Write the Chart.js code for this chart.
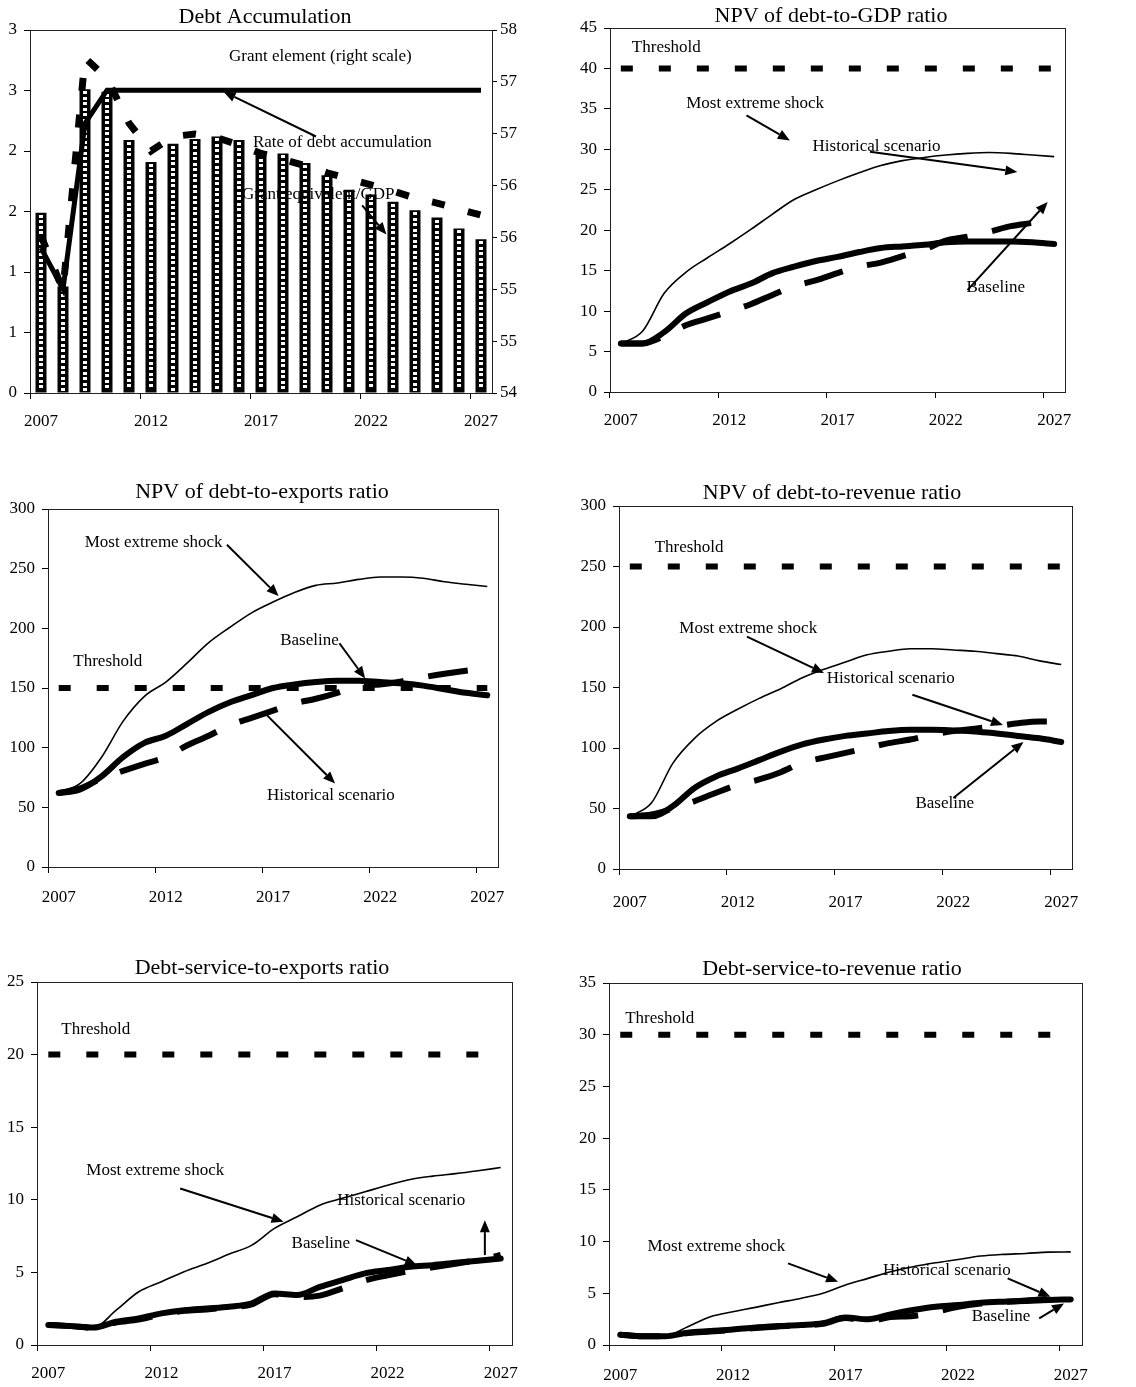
<!DOCTYPE html>
<html>
<head>
<meta charset="utf-8">
<script src="https://cdn.jsdelivr.net/npm/chart.js@4.4.1/dist/chart.umd.min.js"></script>
<style>
  body { margin: 0; background: #fff; }
  #page { position: relative; width: 1136px; height: 1387px; background: #fff; }
  canvas { position: absolute; }
</style>
</head>
<body>
<div id="page">
  <canvas id="c1" width="535" height="440" style="left:0;top:0"></canvas>
  <canvas id="c2" width="540" height="440" style="left:568px;top:0"></canvas>
  <canvas id="c3" width="540" height="440" style="left:0;top:470px"></canvas>
  <canvas id="c4" width="540" height="440" style="left:568px;top:470px"></canvas>
  <canvas id="c5" width="540" height="437" style="left:0;top:950px"></canvas>
  <canvas id="c6" width="540" height="437" style="left:568px;top:950px"></canvas>
</div>
<script>
const years = ['2007', '2008', '2009', '2010', '2011', '2012', '2013', '2014', '2015', '2016', '2017',
               '2018', '2019', '2020', '2021', '2022', '2023', '2024', '2025', '2026', '2027'];

// Debt accumulation
const debtAccumRate = [1.49, 0.88, 2.51, 2.49, 2.09, 1.91, 2.06, 2.10, 2.12, 2.09, 2.00, 1.98, 1.90, 1.80, 1.68, 1.64, 1.58, 1.51, 1.45, 1.36, 1.27];
const grantEquivGdp = [1.30, 0.85, 2.77, 2.60, 2.23, 2.00, 2.12, 2.14, 2.11, 2.05, 1.98, 1.93, 1.88, 1.82, 1.77, 1.72, 1.67, 1.61, 1.57, 1.52, 1.47];
const grantElement = [55.4, 55.0, 56.6, 56.92, 56.92, 56.92, 56.92, 56.92, 56.92, 56.92, 56.92, 56.92, 56.92, 56.92, 56.92, 56.92, 56.92, 56.92, 56.92, 56.92, 56.92];

// NPV of debt-to-GDP
const gdpBaseline = [6.0, 6.0, 7.4, 9.7, 11.1, 12.4, 13.4, 14.7, 15.5, 16.2, 16.7, 17.3, 17.8, 18.0, 18.2, 18.5, 18.6, 18.6, 18.6, 18.5, 18.3];
const gdpHistorical = [6.0, 6.0, 6.9, 8.25, 9.1, 9.95, 10.85, 12.0, 13.1, 13.8, 14.7, 15.5, 16.0, 16.8, 17.6, 18.7, 19.2, 19.8, 20.5, 20.9, 21.3];
const gdpShock = [6.0, 7.5, 12.2, 14.8, 16.6, 18.3, 20.1, 22.0, 23.8, 25.0, 26.1, 27.1, 28.0, 28.6, 29.0, 29.3, 29.5, 29.6, 29.5, 29.3, 29.1];
const gdpThreshold = [40, 40, 40, 40, 40, 40, 40, 40, 40, 40, 40, 40, 40, 40, 40, 40, 40, 40, 40, 40, 40];

// NPV of debt-to-exports
const expBaseline = [62, 65, 76, 92, 104, 110, 120, 130, 138, 144, 150, 153, 155, 156, 156, 155, 154, 152, 149, 146, 144];
const expHistorical = [62, 66, 74, 80.5, 86.5, 92, 102, 110, 119, 125, 131, 137, 141, 146, 152, 153, 155.5, 159, 162, 164.5, 166.5];
const expShock = [63, 70, 92, 122, 143, 155, 171, 188, 201, 213, 222, 230, 236, 238, 241, 243, 243, 242, 239, 237, 235];
const expThreshold = [150, 150, 150, 150, 150, 150, 150, 150, 150, 150, 150, 150, 150, 150, 150, 150, 150, 150, 150, 150, 150];

// NPV of debt-to-revenue
const revBaseline = [43.5, 43.5, 52, 67, 76.5, 83, 90, 97, 103, 107, 110, 112, 114, 115, 115, 114.5, 113.7, 112, 110, 108, 105];
const revHistorical = [43.5, 45, 50, 56, 63, 69.5, 74, 80, 88, 92, 96, 100, 104, 107, 111, 114, 116, 118, 120.5, 122, 122];
const revShock = [43.5, 54.5, 87.5, 108, 122, 132, 141, 149, 158, 165, 171, 177, 180, 182, 182, 181, 180, 178, 176, 172, 169];
const revThreshold = [250, 250, 250, 250, 250, 250, 250, 250, 250, 250, 250, 250, 250, 250, 250, 250, 250, 250, 250, 250, 250];

// Debt-service-to-exports
const dsxBaseline = [1.38, 1.3, 1.2, 1.6, 1.83, 2.18, 2.4, 2.52, 2.64, 2.87, 3.55, 3.44, 4.0, 4.47, 4.93, 5.16, 5.39, 5.5, 5.66, 5.8, 5.96];
const dsxHistorical = [1.38, 1.3, 1.2, 1.55, 1.75, 2.1, 2.35, 2.45, 2.6, 2.8, 3.5, 3.3, 3.4, 3.9, 4.45, 4.8, 5.1, 5.35, 5.6, 5.85, 6.2];
const dsxShock = [1.38, 1.26, 1.2, 2.4, 3.67, 4.36, 5.05, 5.62, 6.26, 6.88, 8.03, 8.83, 9.63, 10.1, 10.55, 11.0, 11.4, 11.63, 11.8, 12.0, 12.22];
const dsxThreshold = [20, 20, 20, 20, 20, 20, 20, 20, 20, 20, 20, 20, 20, 20, 20, 20, 20, 20, 20, 20, 20];

// Debt-service-to-revenue
const dsrBaseline = [1.0, 0.85, 0.85, 1.19, 1.35, 1.5, 1.7, 1.83, 1.93, 2.1, 2.67, 2.48, 2.96, 3.38, 3.7, 3.86, 4.09, 4.19, 4.25, 4.35, 4.41];
const dsrHistorical = [1.0, 0.85, 0.85, 1.15, 1.3, 1.45, 1.65, 1.8, 1.9, 2.05, 2.6, 2.3, 2.7, 2.8, 3.2, 3.7, 4.0, 4.15, 4.3, 4.45, 4.55];
const dsrShock = [1.06, 0.8, 0.87, 1.77, 2.74, 3.22, 3.64, 4.09, 4.5, 5.0, 5.8, 6.44, 7.08, 7.57, 7.95, 8.27, 8.6, 8.76, 8.85, 8.98, 9.0];
const dsrThreshold = [30, 30, 30, 30, 30, 30, 30, 30, 30, 30, 30, 30, 30, 30, 30, 30, 30, 30, 30, 30, 30];

const serif = "'Liberation Serif', 'Times New Roman', serif";

// title, frame around the plot area, text notes and arrows (notes in data units)
function notesPlugin(notes) {
    return {
        id: 'notes',
        afterDatasetDraw(chart, args) {
            // white squares down the middle of each black bar
            if (!notes.checker || args.meta.type !== 'bar') return;
            const ctx = chart.ctx;
            ctx.save();
            ctx.fillStyle = '#fff';
            args.meta.data.forEach(bar => {
                const left = Math.round(bar.x - 2), top = bar.y + 2;
                for (let y = top; y + 3 <= bar.base - 1; y += 5.5) {
                    ctx.fillRect(left, Math.round(y), 4, 3);
                }
            });
            ctx.restore();
        },
        afterDatasetsDraw(chart) {
            const { ctx, chartArea: a } = chart;
            const xs = chart.scales.x, ys = chart.scales.y;
            const px = v => xs.getPixelForValue(v);
            const py = v => ys.getPixelForValue(v);
            ctx.save();
            ctx.strokeStyle = '#222';
            ctx.lineWidth = 1;
            ctx.strokeRect(Math.round(a.left) + 0.5, Math.round(a.top) + 0.5, Math.round(a.right - a.left), Math.round(a.bottom - a.top));

            ctx.fillStyle = '#000';
            ctx.strokeStyle = '#000';
            ctx.lineWidth = 2;
            (notes.arrows || []).forEach(([x1, y1, x2, y2]) => {
                const ax = px(x1), ay = py(y1), bx = px(x2), by = py(y2);
                const ang = Math.atan2(by - ay, bx - ax);
                const len = 12, half = 5;
                const ex = bx - len * Math.cos(ang), ey = by - len * Math.sin(ang);
                ctx.beginPath();
                ctx.moveTo(ax, ay);
                ctx.lineTo(ex, ey);
                ctx.stroke();
                ctx.beginPath();
                ctx.moveTo(bx, by);
                ctx.lineTo(ex + half * Math.sin(ang), ey - half * Math.cos(ang));
                ctx.lineTo(ex - half * Math.sin(ang), ey + half * Math.cos(ang));
                ctx.closePath();
                ctx.fill();
            });

            ctx.textAlign = 'center';
            ctx.textBaseline = 'middle';
            ctx.font = '17px ' + serif;
            (notes.texts || []).forEach(([t, x, y]) => ctx.fillText(t, px(x), py(y)));

            const [title, tx, ty] = notes.title;
            ctx.font = '22px ' + serif;
            ctx.fillText(title, tx, ty);
            ctx.restore();
        }
    };
}

function xAxis(height, pad) {
    return {
        type: 'category',
        offset: true,
        grid: {
            offset: true,
            drawOnChartArea: false,
            tickLength: 6,
            color: c => c.index % 5 === 0 ? '#000' : 'rgba(0,0,0,0)',
        },
        border: { color: '#000', width: 1 },
        ticks: {
            autoSkip: false,
            maxRotation: 0,
            padding: pad,
            color: '#000',
            font: { family: serif, size: 17 },
            callback: (v, i) => i % 5 === 0 ? years[i] : '',
        },
        afterFit: s => { s.height = height; s.paddingLeft = 0; s.paddingRight = 0; },
    };
}

function yAxis(width, min, max, step, extra) {
    return Object.assign({
        min: min,
        max: max,
        grid: { drawOnChartArea: false, tickLength: 6, color: '#000' },
        border: { color: '#000', width: 1 },
        ticks: {
            stepSize: step,
            padding: 7,
            color: '#000',
            font: { family: serif, size: 17 },
            callback: v => Math.round(v),
        },
        afterFit: s => { s.width = width; s.paddingTop = 0; s.paddingBottom = 0; },
    }, extra || {});
}

function baseOptions(padding, scales) {
    return {
        responsive: false,
        animation: false,
        devicePixelRatio: 1,
        layout: { padding: padding, autoPadding: false },
        plugins: {
            legend: { display: false },
            tooltip: { enabled: false },
            title: { display: false },
        },
        scales: scales,
    };
}

function lineSets(baseline, historical, shock, threshold) {
    const common = { borderColor: '#000', pointRadius: 0, fill: false, cubicInterpolationMode: 'monotone' };
    return [
        Object.assign({ label: 'Baseline', data: baseline, borderWidth: 6, borderCapStyle: 'round', order: 1 }, common),
        Object.assign({ label: 'Historical scenario', data: historical, borderWidth: 6, borderDash: [40, 25], order: 2 }, common),
        Object.assign({ label: 'Most extreme shock', data: shock, borderWidth: 1.6, order: 3 }, common),
        Object.assign({ label: 'Threshold', data: threshold, borderWidth: 6, borderDash: [12, 26], order: 4 }, common),
    ];
}

function linePanel(id, padding, dims, yRange, sets, notes) {
    new Chart(document.getElementById(id), {
        type: 'line',
        data: { labels: years, datasets: sets },
        options: baseOptions(padding, {
            x: xAxis(dims.xh, dims.xpad),
            y: yAxis(dims.yw, yRange[0], yRange[1], yRange[2]),
        }),
        plugins: [notesPlugin(notes)],
    });
}

// Panel 1: Debt Accumulation
new Chart(document.getElementById('c1'), {
    type: 'bar',
    data: {
        labels: years,
        datasets: [
            {
                type: 'bar', label: 'Rate of debt accumulation', data: debtAccumRate,
                backgroundColor: '#000', borderWidth: 0,
                barPercentage: 0.5, categoryPercentage: 1, yAxisID: 'y', order: 3,
            },
            {
                type: 'line', label: 'Grant equivalent/GDP', data: grantEquivGdp,
                borderColor: '#000', borderWidth: 7, borderDash: [13, 24], pointRadius: 0, yAxisID: 'y', order: 1,
            },
            {
                type: 'line', label: 'Grant element (right scale)', data: grantElement,
                borderColor: '#000', borderWidth: 5, pointRadius: 0, yAxisID: 'y1', order: 2,
            },
        ],
    },
    options: baseOptions({ left: 0, right: 5, top: 30, bottom: 0 }, {
        x: xAxis(47, 12),
        y: yAxis(30, 0, 3, 0.5),
        y1: yAxis(38, 54, 57.5, 0.5, {
            position: 'right',
            grid: { drawOnChartArea: false, tickLength: 5, color: '#000' },
            ticks: { stepSize: 0.5, padding: 3, color: '#000', font: { family: serif, size: 17 }, callback: v => Math.round(v) },
        }),
    }),
    plugins: [notesPlugin({
        checker: true,
        title: ['Debt Accumulation', 265, 17],
        texts: [
            ['Grant element (right scale)', 12.7, 2.78],
            ['Rate of debt accumulation', 13.7, 2.07],
            ['Grant equivalent/GDP', 12.6, 1.64],
        ],
        arrows: [
            [12.5, 2.12, 8.3, 2.49],
            [14.6, 1.55, 15.7, 1.31],
        ],
    })],
});

// Panel 2: NPV of debt-to-GDP ratio
linePanel('c2', { left: 0, right: 43, top: 28, bottom: 0 },
    { xh: 48, xpad: 12, yw: 42 }, [0, 45, 5],
    lineSets(gdpBaseline, gdpHistorical, gdpShock, gdpThreshold),
    {
        title: ['NPV of debt-to-GDP ratio', 263, 16],
        texts: [
            ['Threshold', 2.1, 42.6],
            ['Most extreme shock', 6.2, 35.7],
            ['Historical scenario', 11.8, 30.3],
            ['Baseline', 17.3, 12.9],
        ],
        arrows: [
            [5.8, 34.2, 7.8, 31.1],
            [11.5, 29.7, 18.3, 27.2],
            [16.0, 12.6, 19.7, 23.5],
        ],
    });

// Panel 3: NPV of debt-to-exports ratio
linePanel('c3', { left: 0, right: 42, top: 39, bottom: 0 },
    { xh: 43, xpad: 14, yw: 48 }, [0, 300, 50],
    lineSets(expBaseline, expHistorical, expShock, expThreshold),
    {
        title: ['NPV of debt-to-exports ratio', 262, 22],
        texts: [
            ['Most extreme shock', 4.43, 271.5],
            ['Baseline', 11.7, 190],
            ['Threshold', 2.29, 172],
            ['Historical scenario', 12.7, 60],
        ],
        arrows: [
            [7.85, 270, 10.26, 227],
            [13.1, 187.5, 14.3, 158],
            [9.56, 130, 12.9, 70],
        ],
    });

// Panel 4: NPV of debt-to-revenue ratio
linePanel('c4', { left: 0, right: 36, top: 36, bottom: 0 },
    { xh: 41, xpad: 17, yw: 51 }, [0, 300, 50],
    lineSets(revBaseline, revHistorical, revShock, revThreshold),
    {
        title: ['NPV of debt-to-revenue ratio', 264, 23],
        texts: [
            ['Threshold', 2.75, 266],
            ['Most extreme shock', 5.49, 199],
            ['Historical scenario', 12.1, 157],
            ['Baseline', 14.6, 54.5],
        ],
        arrows: [
            [5.43, 192, 9.0, 162],
            [13.1, 144, 17.3, 119],
            [15.0, 58.6, 18.25, 105],
        ],
    });

// Panel 5: Debt-service-to-exports ratio
linePanel('c5', { left: 0, right: 28, top: 32, bottom: 0 },
    { xh: 42, xpad: 12, yw: 37 }, [0, 25, 5],
    lineSets(dsxBaseline, dsxHistorical, dsxShock, dsxThreshold),
    {
        title: ['Debt-service-to-exports ratio', 262, 18],
        texts: [
            ['Threshold', 2.1, 21.7],
            ['Most extreme shock', 4.73, 12.04],
            ['Historical scenario', 15.6, 9.98],
            ['Baseline', 12.05, 7.0],
        ],
        arrows: [
            [5.83, 10.78, 10.4, 8.49],
            [13.6, 7.22, 16.3, 5.5],
            [19.3, 6.19, 19.3, 8.6],
        ],
    });

// Panel 6: Debt-service-to-revenue ratio
linePanel('c6', { left: 0, right: 26, top: 33, bottom: 0 },
    { xh: 42, xpad: 14, yw: 41 }, [0, 35, 5],
    lineSets(dsrBaseline, dsrHistorical, dsrShock, dsrThreshold),
    {
        title: ['Debt-service-to-revenue ratio', 264, 19],
        texts: [
            ['Threshold', 1.75, 31.55],
            ['Most extreme shock', 4.27, 9.5],
            ['Historical scenario', 14.5, 7.24],
            ['Baseline', 16.9, 2.74],
        ],
        arrows: [
            [7.45, 7.89, 9.67, 6.12],
            [17.2, 6.44, 19.1, 4.67],
            [18.6, 2.58, 19.7, 4.02],
        ],
    });
</script>
</body>
</html>
